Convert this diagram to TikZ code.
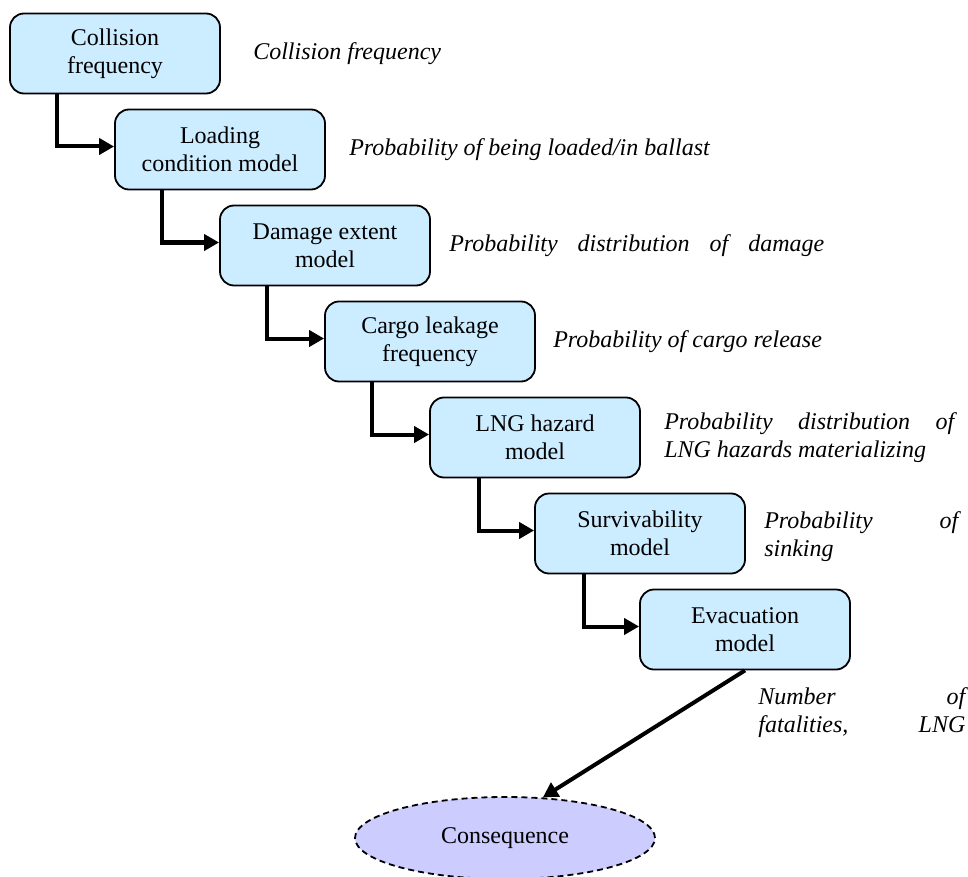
\documentclass[tikz,border=0pt]{standalone}
\usepackage{fontspec}
\setmainfont{Liberation Serif}
\usetikzlibrary{calc, arrows.meta, shapes.geometric, positioning}
\definecolor{boxblue}{RGB}{204,236,255}
\definecolor{conslilac}{RGB}{204,204,255}
\newcommand{\spreadline}[2]{\makebox[#1][s]{#2}}

\begin{document}
\begin{tikzpicture}[x=0.5pt, y=-0.5pt,
    font=\fontsize{12}{14}\selectfont,
    model/.style={draw, line width=0.9pt, rounded corners=7pt, fill=boxblue,
        minimum width=105pt, minimum height=40pt, align=center, inner sep=2pt},
    result/.style={ellipse, draw, dash pattern=on 3pt off 2pt, line width=0.9pt,
        fill=conslilac, minimum width=150pt, minimum height=41pt},
    note/.style={font=\fontsize{12}{14}\selectfont\itshape, inner sep=0pt, align=left},
    flow/.style={-{Triangle[length=7.5pt,width=8pt]}, line width=2pt}]
            \useasboundingbox (0,0) rectangle (968,877);
            \node[model] (coll) at (115,53.5) {Collision\\frequency};
            \node[model] (load) at ($(coll)+(105,96)$) {Loading\\condition model};
            \node[model] (dam) at ($(load)+(105,96)$) {Damage extent\\model};
            \node[model] (leak) at ($(dam)+(105,96)$) {Cargo leakage\\frequency};
            \node[model] (haz) at ($(leak)+(105,96)$) {LNG hazard\\model};
            \node[model] (surv) at ($(haz)+(105,96)$) {Survivability\\model};
            \node[model] (evac) at ($(surv)+(105,96)$) {Evacuation\\model};
            \node[result] (cons) at (505,838) {Consequence};

            \draw[flow] ([xshift=-29pt]coll.south) |- ([yshift=1.5pt]load.west);
            \draw[flow] ([xshift=-29pt]load.south) |- ([yshift=1.5pt]dam.west);
            \draw[flow] ([xshift=-29pt]dam.south) |- ([yshift=1.5pt]leak.west);
            \draw[flow] ([xshift=-29pt]leak.south) |- ([yshift=1.5pt]haz.west);
            \draw[flow] ([xshift=-28pt]haz.south) |- ([yshift=1.5pt]surv.west);
            \draw[flow] ([xshift=-28pt]surv.south) |- ([yshift=1.5pt]evac.west);
            \draw[flow] (evac.south) -- (cons.47);

            \node[note, right=16pt of coll] (collnote) {Collision frequency};
            \node[note, right=11.5pt of load] (loadnote) {Probability of being loaded/in ballast};
            \node[note, right=9pt of dam] (damnote) {\spreadline{187.5pt}{Probability distribution of damage}};
            \node[note, right=8.5pt of leak] (leaknote) {Probability of cargo release};
            \node[note, right=11.5pt of haz] (haznote) {\spreadline{145pt}{Probability distribution of}\\LNG hazards materializing};
            \node[note, right=9pt of surv, yshift=-1.5pt] (survnote) {\spreadline{97pt}{Probability of}\\sinking};
            \node[note, anchor=north west] (evacnote) at ($(evac.south)+(13,17)$)
                {\spreadline{103.5pt}{Number of}\\\spreadline{103.5pt}{fatalities, LNG}};
\end{tikzpicture}
\end{document}
